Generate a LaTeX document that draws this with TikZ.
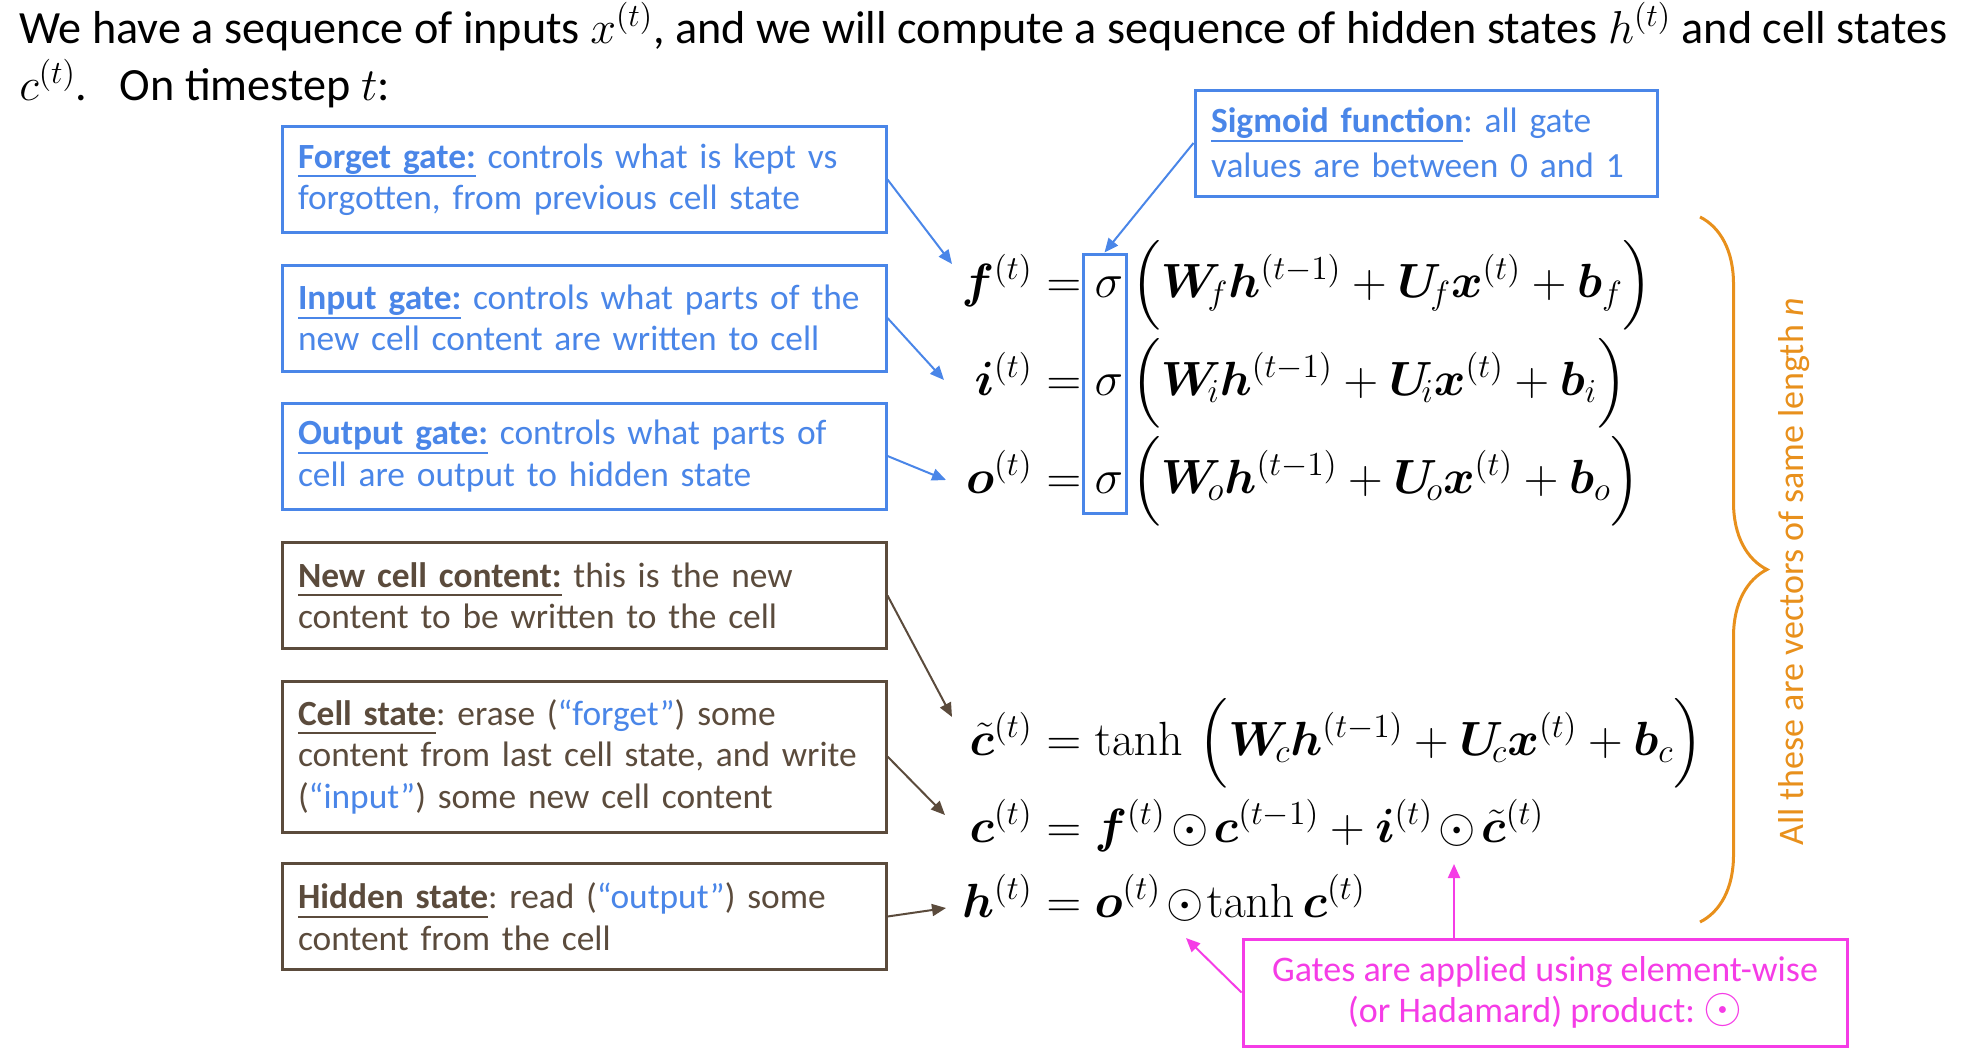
\RequirePackage{fix-cm}
\documentclass[tikz,border=0pt]{standalone}
\usepackage{amsmath}
\usepackage{bm}
\usepackage[no-math]{fontspec}
\setmainfont{Carlito}
\newcommand{\myul}[1]{\leavevmode\setbox0\hbox{#1}\rlap{\vrule width\wd0 height -3.6pt depth 4.6pt}\box0\relax}
\newcommand{\hd}{\mskip2mu{\odot}\mskip2mu}
\usetikzlibrary{arrows.meta,decorations.pathreplacing}
\definecolor{gblue}{HTML}{4A86E8}
\definecolor{ibrown}{HTML}{5B4B3C}
\definecolor{borange}{HTML}{E8901C}
\definecolor{gmag}{HTML}{F53CE6}
\begin{document}
\frenchspacing
\begin{tikzpicture}[x=0.5pt,y=-0.5pt,
  bfont/.style={font=\fontsize{17.7}{20.75}\selectfont},
  gatebox/.style={bfont, draw=gblue, line width=1.5pt, text=gblue, inner xsep=8pt, inner ysep=0pt,
    text width=286pt, minimum height=53pt, align=left},
  infobox/.style={gatebox, draw=ibrown, text=ibrown},
  eq/.style={inner sep=0pt, font=\fontsize{24}{28}\selectfont},
  barrow/.style={draw=gblue, line width=1pt, -{Triangle[length=7pt,width=6pt]}},
  brarrow/.style={draw=ibrown, line width=1pt, -{Triangle[length=7pt,width=6pt]}},
  marrow/.style={draw=gmag, line width=1pt, -{Triangle[length=7pt,width=6pt]}}
]
\useasboundingbox (0,0) rectangle (1980,1050);

% title
\node (title1) [anchor=base west, inner sep=0pt, font=\fontsize{23.1}{28}\selectfont] at (19,43)
  {We have a sequence of inputs $x^{(t)}$, and we will compute a sequence of hidden states $h^{(t)}$ and cell states};
\node (title2) [anchor=base west, inner sep=0pt, font=\fontsize{23.1}{28}\selectfont] at (19,100)
  {$c^{(t)}$.\hspace{0.7em}On timestep $t$:};

% left boxes
\node (forget) [gatebox] at (584,179.5)
  {\myul{\textbf{Forget gate:}} controls what is kept vs\\ forgotten, from previous cell state};
\node (input) [gatebox] at (584,318)
  {\myul{\textbf{Input gate:}} controls what parts of the\\ new cell content are written to cell};
\node (output) [gatebox] at (584,456)
  {\myul{\textbf{Output gate:}} controls what parts of\\ cell are output to hidden state};
\node (newcell) [infobox] at (584,595.5)
  {\myul{\textbf{New cell content:}} this is the new\\ content to be written to the cell};
\node (cellstate) [infobox, minimum height=75.5pt] at (584,756.5)
  {\myul{\textbf{Cell state}}: erase ({\color{gblue}“forget”}) some\\ content from last cell state, and write\\ ({\color{gblue}“input”}) some new cell content};
\node (hidden) [infobox] at (584,916.5)
  {\myul{\textbf{Hidden state}}: read ({\color{gblue}“output”}) some\\ content from the cell};

% sigmoid box
\node (sigmoid) [gatebox, text width=215pt, font=\fontsize{17.7}{22.5}\selectfont] at (1426,143)
  {\myul{\textbf{Sigmoid function}}: all gate\\ values are between 0 and 1};

% equations
\node (flhs) [eq, anchor=base east] at (1033,297) {$\bm{f}^{(t)}$};
\node (frhs) [eq, anchor=base west] at (1033,297)
  {${}=\sigma\,\Big(\bm{W}_{\!f}\bm{h}^{(t-1)}+\bm{U}_{\!f}\bm{x}^{(t)}+\bm{b}_f\Big)$};
\node (ilhs) [eq, anchor=base east] at (1033,395) {$\bm{i}^{(t)}$};
\node (irhs) [eq, anchor=base west] at (1033,395)
  {${}=\sigma\,\Big(\bm{W}_{\!i}\bm{h}^{(t-1)}+\bm{U}_{\!i}\bm{x}^{(t)}+\bm{b}_i\Big)$};
\node (olhs) [eq, anchor=base east] at (1033,493) {$\bm{o}^{(t)}$};
\node (orhs) [eq, anchor=base west] at (1033,493)
  {${}=\sigma\,\Big(\bm{W}_{\!o}\bm{h}^{(t-1)}+\bm{U}_{\!o}\bm{x}^{(t)}+\bm{b}_o\Big)$};
\node (ctlhs) [eq, anchor=base east] at (1033,755) {$\tilde{\bm{c}}^{(t)}$};
\node (ctrhs) [eq, anchor=base west] at (1033,755)
  {${}=\tanh\,\Big(\bm{W}_{\!c}\bm{h}^{(t-1)}+\bm{U}_{\!c}\bm{x}^{(t)}+\bm{b}_c\Big)$};
\node (clhs) [eq, anchor=base east] at (1033,842) {$\bm{c}^{(t)}$};
\node (crhs) [eq, anchor=base west] at (1033,842)
  {${}=\bm{f}^{(t)}\hd\bm{c}^{(t-1)}+\bm{i}^{(t)}\hd\tilde{\bm{c}}^{(t)}$};
\node (hlhs) [eq, anchor=base east] at (1033,917) {$\bm{h}^{(t)}$};
\node (hrhs) [eq, anchor=base west] at (1033,917)
  {${}=\bm{o}^{(t)}\mskip2mu{\odot}\mskip1mu\mathrm{tanh}\,\bm{c}^{(t)}$};

% sigma highlight
\node (sigbox) [draw=gblue, line width=1.5pt, minimum width=21.5pt, minimum height=129.5pt, inner sep=0pt] at (1104.5,383.5) {};

% brace and label
\coordinate (bracetop) at (1700,217);
\coordinate (bracebot) at (1700,922);
\draw[borange, line width=1.5pt, decorate, decoration={brace, amplitude=33.5pt}] (bracetop) -- (bracebot);
\node (allvec) [rotate=90, text=borange, font=\fontsize{18}{20}\selectfont, inner sep=0pt] at (1794,572)
  {All these are vectors of same length \textit{n}};

% hadamard box
\node (hada) [font=\fontsize{18}{20.75}\selectfont, draw=gmag, line width=1.5pt, text=gmag, align=center, minimum width=302pt,
  minimum height=53.5pt, inner sep=0pt] at (1545,992.5)
  {Gates are applied using element-wise\\ (or Hadamard) product: {\fontsize{25}{20}\selectfont$\odot$}};

% arrow end points
\coordinate (fend) at (952,264);
\coordinate (iend) at (944,380);
\coordinate (oend) at (946,480);
\coordinate (ctend) at (952,717);
\coordinate (cend) at (945,815);
\coordinate (hend) at (946,908);
\coordinate (odotA) at (1454,864);
\coordinate (odotB) at (1186,938);

\draw[barrow] (forget.east) -- (fend);
\draw[barrow] (input.east) -- (iend);
\draw[barrow] (output.east) -- (oend);
\draw[barrow] (sigmoid.west) -- (sigbox.north);
\draw[brarrow] (newcell.east) -- (ctend);
\draw[brarrow] (cellstate.east) -- (cend);
\draw[brarrow] (hidden.east) -- (hend);
\draw[marrow] (odotA |- hada.north) -- (odotA);
\draw[marrow] (hada.west) -- (odotB);
\end{tikzpicture}
\end{document}
